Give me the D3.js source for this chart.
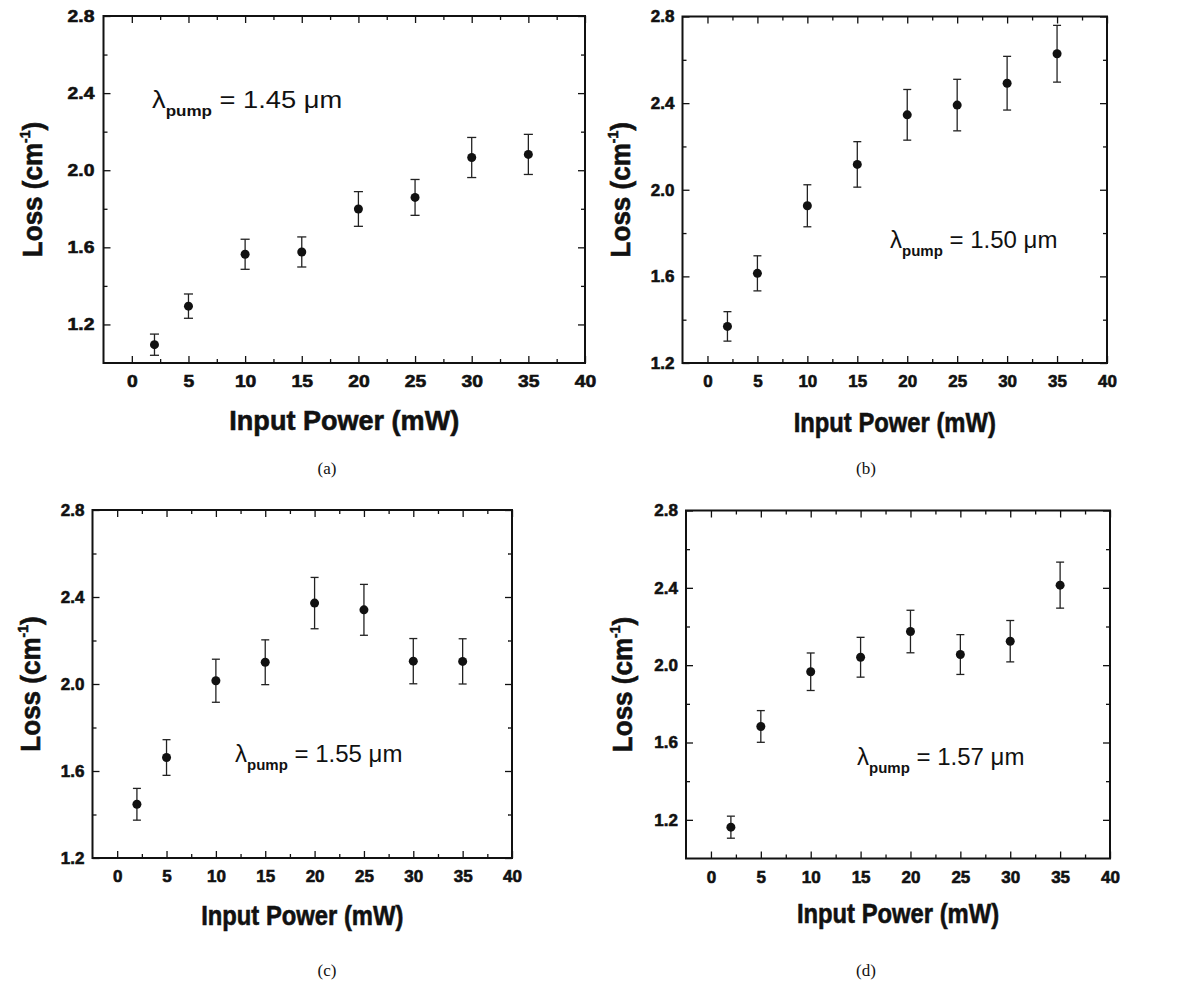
<!DOCTYPE html>
<html>
<head>
<meta charset="utf-8">
<script src="https://cdn.jsdelivr.net/npm/d3@7/dist/d3.min.js"></script>
<style>
  body { margin: 0; background: #ffffff; }
  svg { display: block; font-family: "Liberation Sans", Arial, Helvetica, sans-serif; }
</style>
</head>
<body>
<svg id="fig" width="1194" height="985"></svg>
<script>
// Input power (mW), shared by all four panels
const power = [2, 5, 10, 15, 20, 25, 30, 35];

// (a) pump 1.45 um
const lossA = [1.095, 1.295, 1.564, 1.576, 1.799, 1.859, 2.066, 2.082];
const errA  = [0.055, 0.063, 0.078, 0.078, 0.090, 0.093, 0.104, 0.104];
// (b) pump 1.50 um
const lossB = [1.369, 1.614, 1.926, 2.117, 2.346, 2.391, 2.492, 2.628];
const errB  = [0.068, 0.081, 0.097, 0.105, 0.117, 0.119, 0.124, 0.131];
// (c) pump 1.55 um
const lossC = [1.447, 1.662, 2.015, 2.100, 2.372, 2.341, 2.105, 2.104];
const errC  = [0.073, 0.082, 0.099, 0.103, 0.118, 0.117, 0.104, 0.104];
// (d) pump 1.57 um
const lossD = [1.162, 1.683, 1.966, 2.041, 2.174, 2.055, 2.124, 2.414];
const errD  = [0.057, 0.082, 0.097, 0.103, 0.110, 0.103, 0.107, 0.119];

const xTickValues = [0, 5, 10, 15, 20, 25, 30, 35, 40];
const xMinorValues = [2.5, 7.5, 12.5, 17.5, 22.5, 27.5, 32.5, 37.5];
const yTickValues = [1.2, 1.6, 2.0, 2.4, 2.8];
const yMinorValues = [1.4, 1.8, 2.2, 2.6];
const xDomain = [-2.5, 40];

const panels = [
  { tag: "(a)", pump: "1.45", loss: lossA, err: errA, yMin: 1.0,
    box: { left: 103.5, right: 585, top: 16, bottom: 363 }, sx: 1.137,
    lam: [152, 108], captionX: 327, captionY: 474, xTitleY: 430, yTitleX: 42 },
  { tag: "(b)", pump: "1.50", loss: lossB, err: errB, yMin: 1.2,
    box: { left: 682.5, right: 1107, top: 16.5, bottom: 363 }, sx: 1,
    lam: [890, 248], captionX: 866, captionY: 474, xTitleY: 432, yTitleX: 630 },
  { tag: "(c)", pump: "1.55", loss: lossC, err: errC, yMin: 1.2,
    box: { left: 92.5, right: 512, top: 510, bottom: 858 }, sx: 1,
    lam: [235, 762], captionX: 327, captionY: 976, xTitleY: 925, yTitleX: 40 },
  { tag: "(d)", pump: "1.57", loss: lossD, err: errD, yMin: 1.0,
    box: { left: 686, right: 1110, top: 510.5, bottom: 858.5 }, sx: 1,
    lam: [857, 765], captionX: 866, captionY: 976, xTitleY: 923, yTitleX: 632 }
];

const svg = d3.select("#fig");
const SANS = "'Liberation Sans', Arial, Helvetica, sans-serif";

// heavy bold look of the scanned labels
function heavy(sel) {
  return sel.style("font-weight", "bold").style("fill", "#111")
    .style("stroke", "#111").style("stroke-width", "0.6px");
}

function drawPanel(p) {
  const b = p.box;
  const x = d3.scaleLinear().domain(xDomain).range([b.left, b.right]);
  const y = d3.scaleLinear().domain([p.yMin, 2.8]).range([b.bottom, b.top]);
  const g = svg.append("g");

  // major ticks inward on all four sides, labels on bottom / left
  const bottom = g.append("g").attr("transform", `translate(0,${b.bottom})`)
    .call(d3.axisBottom(x).tickValues(xTickValues).tickSize(-7).tickPadding(12));
  const left = g.append("g").attr("transform", `translate(${b.left},0)`)
    .call(d3.axisLeft(y).tickValues(yTickValues).tickSize(-7).tickPadding(8)
      .tickFormat(d3.format(".1f")));
  g.append("g").attr("transform", `translate(0,${b.top})`)
    .call(d3.axisTop(x).tickValues(xTickValues).tickSize(-7).tickFormat(""));
  g.append("g").attr("transform", `translate(${b.right},0)`)
    .call(d3.axisRight(y).tickValues(yTickValues).tickSize(-7).tickFormat(""));

  // minor ticks
  g.append("g").attr("transform", `translate(0,${b.bottom})`)
    .call(d3.axisBottom(x).tickValues(xMinorValues).tickSize(-4).tickFormat(""));
  g.append("g").attr("transform", `translate(0,${b.top})`)
    .call(d3.axisTop(x).tickValues(xMinorValues).tickSize(-4).tickFormat(""));
  g.append("g").attr("transform", `translate(${b.left},0)`)
    .call(d3.axisLeft(y).tickValues(yMinorValues).tickSize(-4).tickFormat(""));
  g.append("g").attr("transform", `translate(${b.right},0)`)
    .call(d3.axisRight(y).tickValues(yMinorValues).tickSize(-4).tickFormat(""));

  g.selectAll(".domain").remove();
  g.selectAll(".tick line").attr("stroke", "#111").attr("stroke-width", 1.3);
  [bottom, left].forEach(ax => heavy(ax.selectAll(".tick text")
    .style("font-size", "17px").style("font-family", SANS))
    .attr("transform", `scale(${p.sx},1)`));

  // frame
  g.append("rect")
    .attr("x", b.left).attr("y", b.top)
    .attr("width", b.right - b.left).attr("height", b.bottom - b.top)
    .attr("fill", "none").attr("stroke", "#111").attr("stroke-width", 2);

  const pts = power.map((v, i) => ({ x: v, y: p.loss[i], e: p.err[i] }));
  const cap = 4 * p.sx;

  // error bars
  const eb = g.append("g").attr("stroke", "#222").attr("stroke-width", 1.3);
  eb.selectAll("line.stem").data(pts).enter().append("line").attr("class", "stem")
    .attr("x1", d => x(d.x)).attr("x2", d => x(d.x))
    .attr("y1", d => y(d.y - d.e)).attr("y2", d => y(d.y + d.e));
  eb.selectAll("line.top").data(pts).enter().append("line").attr("class", "top")
    .attr("x1", d => x(d.x) - cap).attr("x2", d => x(d.x) + cap)
    .attr("y1", d => y(d.y + d.e)).attr("y2", d => y(d.y + d.e));
  eb.selectAll("line.bot").data(pts).enter().append("line").attr("class", "bot")
    .attr("x1", d => x(d.x) - cap).attr("x2", d => x(d.x) + cap)
    .attr("y1", d => y(d.y - d.e)).attr("y2", d => y(d.y - d.e));

  g.selectAll("circle").data(pts).enter().append("circle")
    .attr("cx", d => x(d.x)).attr("cy", d => y(d.y))
    .attr("r", 4.5).attr("fill", "#111");

  // axis titles
  const cx = (b.left + b.right) / 2;
  const cy = (b.top + b.bottom) / 2;
  heavy(g.append("text")
    .attr("transform", `translate(${cx},${p.xTitleY}) scale(${0.85 * p.sx},1)`)
    .attr("text-anchor", "middle").style("font-size", "28px"))
    .text("Input Power (mW)");

  const yt = heavy(g.append("text")
    .attr("transform", `translate(${p.yTitleX},${cy}) rotate(-90) scale(0.93,1)`)
    .attr("text-anchor", "middle").style("font-size", "28px"));
  yt.append("tspan").text("Loss (cm");
  yt.append("tspan").style("font-size", "15px").attr("dy", -12).text("-1");
  yt.append("tspan").attr("dy", 12).text(")");

  // pump wavelength annotation
  const lt = g.append("text")
    .attr("transform", `translate(${p.lam[0]},${p.lam[1]}) scale(${p.sx},1)`)
    .style("font-size", "24px").style("fill", "#111");
  lt.append("tspan").text("λ");
  lt.append("tspan").style("font-size", "15px").style("font-weight", "bold").attr("dy", 8).text("pump");
  lt.append("tspan").attr("dy", -8).text(` = ${p.pump} μm`);

  // sub-figure caption
  g.append("text")
    .attr("x", p.captionX).attr("y", p.captionY)
    .attr("text-anchor", "middle")
    .style("font-size", "17px").style("fill", "#111")
    .style("font-family", "'Liberation Serif', 'Times New Roman', serif")
    .text(p.tag);
}

panels.forEach(drawPanel);
</script>
</body>
</html>
